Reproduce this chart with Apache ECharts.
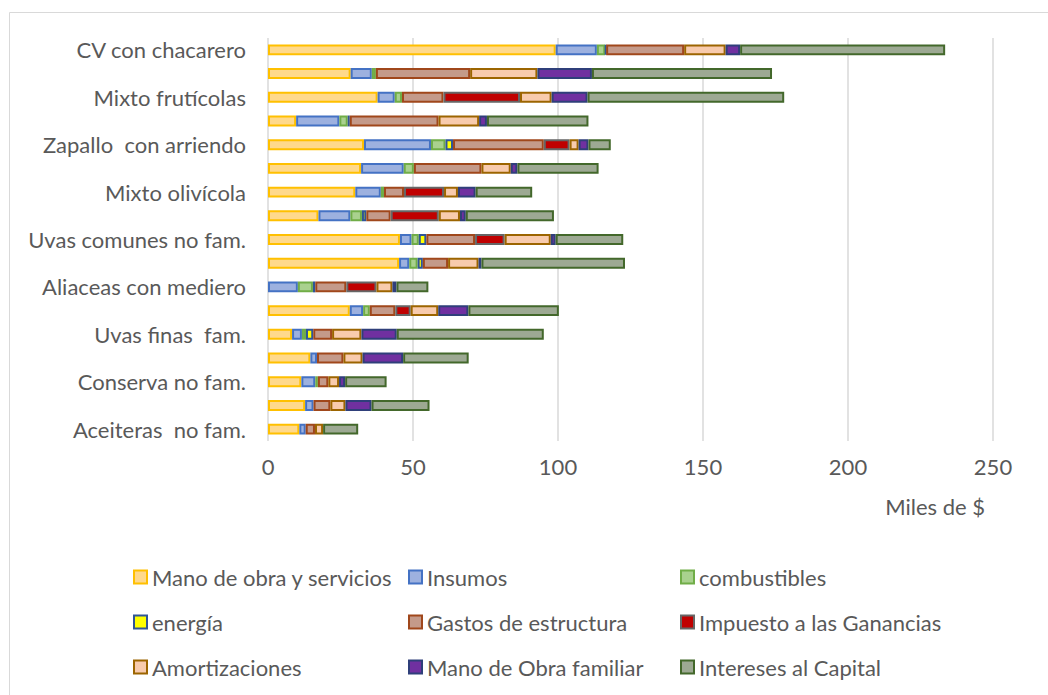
<!DOCTYPE html>
<html>
<head>
	<meta charset="UTF-8">
	<title>Costos por modelo</title>
	<style type="text/css">
		html, body {
			margin: 0;
			padding: 0;
			background: #fff;
		}
		#chart {
			width: 1048px;
			height: 695px;
		}
	</style>
</head>
<body>
	<div id="chart"></div>
	<script type="text/javascript" src="https://cdn.jsdelivr.net/npm/echarts@6/dist/echarts.min.js"></script>
	<script>
		// categorias (de arriba hacia abajo), solo se muestran una de cada dos
		var categorias = ['CV con chacarero', ' ', 'Mixto frutícolas', '  ', 'Zapallo  con arriendo', '   ',
			'Mixto olivícola', '    ', 'Uvas comunes no fam.', '     ', 'Aliaceas con mediero', '      ',
			'Uvas finas  fam.', '       ', 'Conserva no fam.', '        ', 'Aceiteras  no fam.'];

		var xTicks = [0, 50, 100, 150, 200, 250];

		// valores en miles de $
		var manoObra = [99.2, 28.5, 37.8, 9.7, 33.1, 32.1, 30.1, 17.4, 45.5, 45.2, null, 28.2, 8.3, 14.6, 11.5, 12.8, 10.8];
		var insumos = [14.2, 7.3, 5.9, 14.9, 23.1, 14.7, 8.8, 11.0, 4.0, 3.5, 10.3, 4.6, 3.4, 2.3, 4.8, 2.9, 2.2];
		var combustibles = [2.9, 1.4, 2.5, 2.9, 5.0, 3.5, 1.1, 4.0, 2.5, 2.9, 5.2, 2.3, 1.4, null, 0.9, null, null];
		var energia = [0.3, null, null, 0.7, 2.6, null, null, 1.5, 2.6, 1.8, 0.8, null, 2.5, null, null, null, null];
		var gastos = [26.9, 32.5, 14.3, 30.6, 31.3, 23.3, 6.9, 8.4, 16.8, 8.7, 10.7, 8.8, 6.5, 9.1, 3.6, 5.8, 3.2];
		var impuesto = [null, null, 26.4, null, 8.9, null, 13.8, 16.6, 10.2, null, 10.4, 5.3, null, null, null, null, null];
		var amortizaciones = [14.3, 23.2, 10.9, 14.0, 3.1, 10.1, 4.8, 7.3, 15.9, 10.5, 5.5, 9.5, 10.1, 6.6, 3.7, 5.2, 2.8];
		var familiar = [5.0, 18.8, 12.4, 2.7, 3.4, 2.3, 6.1, 2.0, 1.7, 1.0, 1.4, 10.4, 12.2, 14.0, 2.1, 9.0, null];
		var intereses = [70.7, 62.1, 67.8, 35.0, 7.7, 28.0, 19.5, 30.4, 23.3, 49.5, 11.0, 31.2, 50.7, 22.6, 14.3, 20.0, 12.1];

		var nombres = ['Mano de obra y servicios', 'Insumos', 'combustibles', 'energía', 'Gastos de estructura',
			'Impuesto a las Ganancias', 'Amortizaciones', 'Mano de Obra familiar', 'Intereses al Capital'];
		var datos = [manoObra, insumos, combustibles, energia, gastos, impuesto, amortizaciones, familiar, intereses];
		var rellenos = ['#FFD98C', '#9DB1DF', '#A9D18E', '#FFFF00', '#C49A8A', '#C00000', '#F8CBAD', '#7030A0', '#9DA993'];
		var bordes = ['#FFC000', '#4472C4', '#70AD47', '#2F5597', '#A0471B', '#666666', '#9C6500', '#2F3F7A', '#43682B'];

		var fuente = 'Lato, "Liberation Sans", sans-serif';
		var gris = '#595959';

		var series = [];
		for (var i = 0; i < nombres.length; i++) {
			series.push({
				name: nombres[i],
				type: 'bar',
				stack: 'total',
				barWidth: '46%',
				data: datos[i],
				itemStyle: {
					color: rellenos[i],
					borderColor: bordes[i],
					borderWidth: 2
				}
			});
		}

		// leyenda en 3 columnas x 3 filas
		var colX = [133, 408, 680];
		var filaY = [566, 611, 656];
		var leyendas = [];
		for (var i = 0; i < nombres.length; i++) {
			leyendas.push({
				data: [nombres[i]],
				left: colX[i % 3],
				top: filaY[Math.floor(i / 3)],
				padding: 0,
				itemWidth: 13,
				itemHeight: 13,
				icon: 'rect',
				selectedMode: false,
				textStyle: { fontFamily: fuente, fontSize: 22, color: gris }
			});
		}

		var chart = echarts.init(document.getElementById('chart'), null, { renderer: 'svg' });
		var option = {
			animation: false,
			title: {
				text: 'Miles de $',
				right: 63,
				top: 495,
				padding: 0,
				textStyle: { fontFamily: fuente, fontSize: 22, fontWeight: 'normal', color: gris }
			},
			legend: leyendas,
			graphic: [{
				type: 'rect',
				left: 7,
				top: 10,
				shape: { width: 1100, height: 800 },
				style: { fill: 'none', stroke: '#D9D9D9', lineWidth: 1 },
				silent: true
			}],
			grid: {
				left: 268,
				right: 55,
				top: 38,
				bottom: 254
			},
			xAxis: {
				type: 'value',
				min: xTicks[0],
				max: xTicks[xTicks.length - 1],
				interval: 50,
				axisLine: { show: false },
				axisTick: { show: false },
				splitLine: { lineStyle: { color: '#D9D9D9', width: 1.5 } },
				axisLabel: { fontFamily: fuente, fontSize: 22, color: gris, margin: 14 }
			},
			yAxis: {
				type: 'category',
				inverse: true,
				data: categorias,
				axisLine: { show: false },
				axisTick: { show: false },
				axisLabel: { interval: 1, fontFamily: fuente, fontSize: 22, color: gris, margin: 22 }
			},
			series: series
		};
		chart.setOption(option);
	</script>
</body>
</html>
